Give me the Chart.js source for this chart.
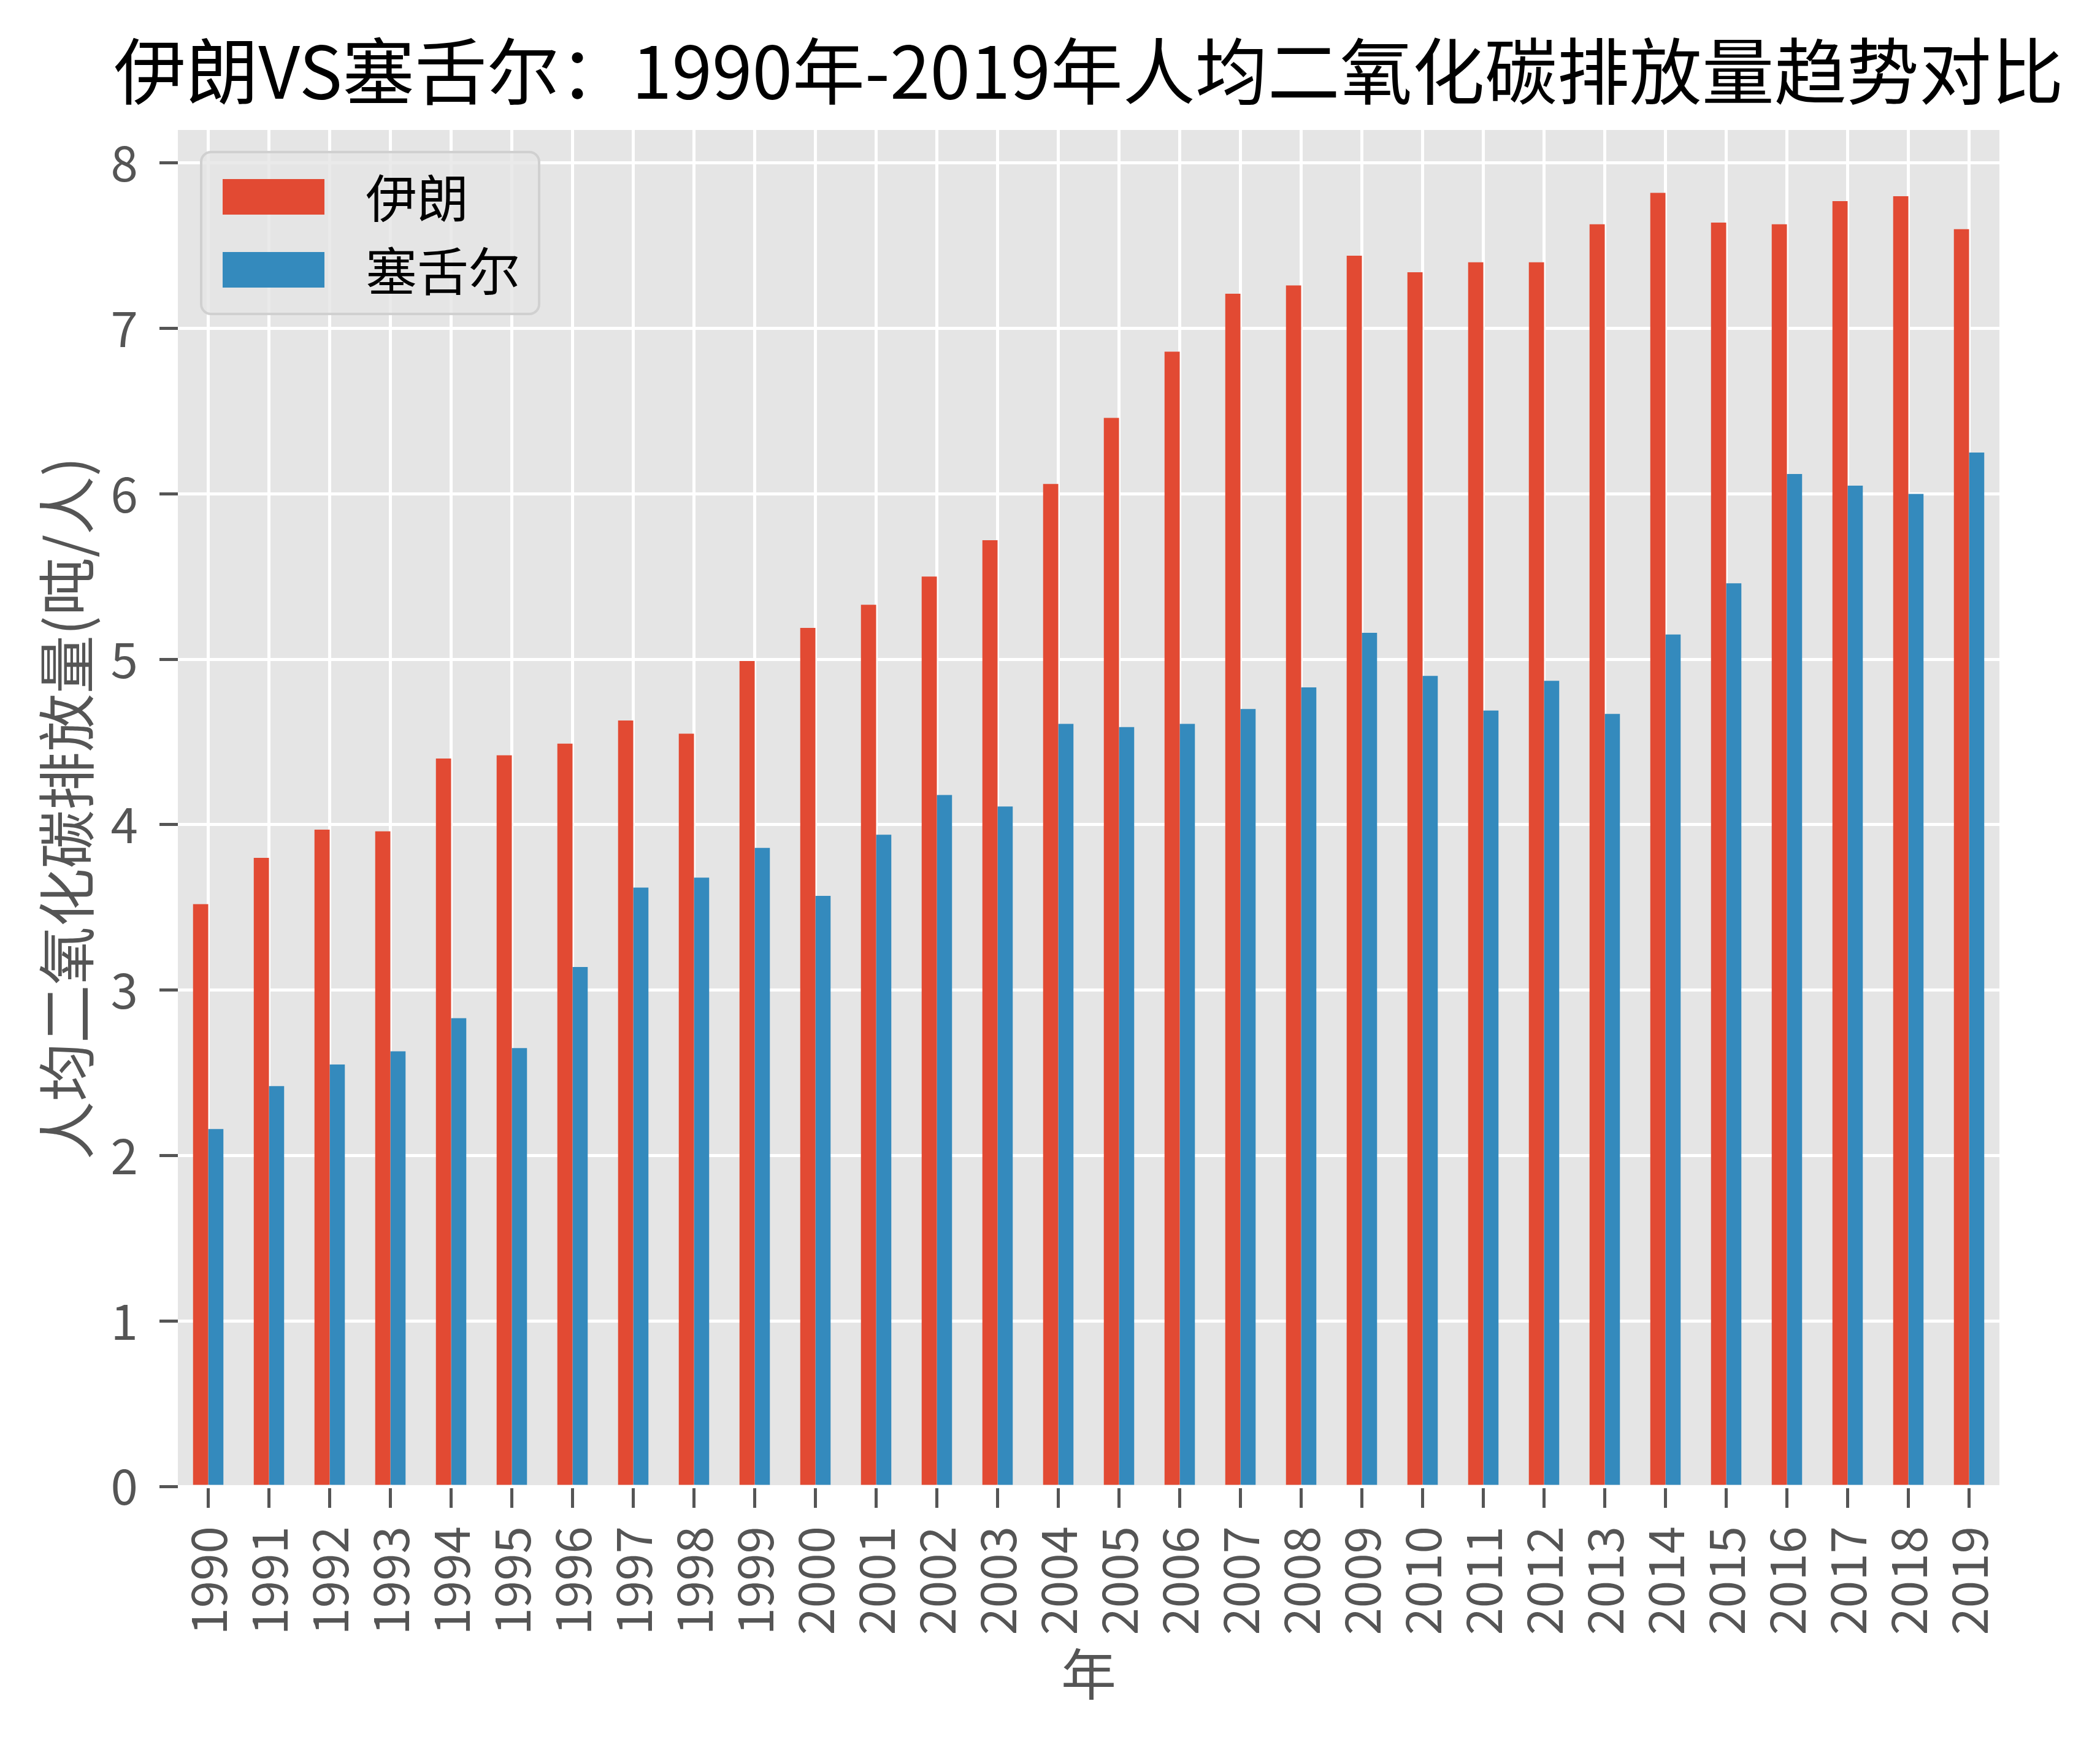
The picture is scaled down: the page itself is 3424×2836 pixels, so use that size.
<!DOCTYPE html>
<html>
<head>
<meta charset="utf-8">
<script src="https://cdn.jsdelivr.net/npm/chart.js@4.4.1/dist/chart.umd.min.js"></script>
<style>
  html, body { margin: 0; padding: 0; background: #fff; }
  canvas { display: block; }
</style>
</head>
<body>
<canvas id="chart" width="3424" height="2836"></canvas>
<script>
const years = ['1990', '1991', '1992', '1993', '1994', '1995', '1996', '1997', '1998', '1999',
  '2000', '2001', '2002', '2003', '2004', '2005', '2006', '2007', '2008', '2009',
  '2010', '2011', '2012', '2013', '2014', '2015', '2016', '2017', '2018', '2019'];
const iran = [3.52, 3.80, 3.97, 3.96, 4.40, 4.42, 4.49, 4.63, 4.55, 4.99,
  5.19, 5.33, 5.50, 5.72, 6.06, 6.46, 6.86, 7.21, 7.26, 7.44,
  7.34, 7.40, 7.40, 7.63, 7.82, 7.64, 7.63, 7.77, 7.80, 7.60];
const qatar = [2.16, 2.42, 2.55, 2.63, 2.83, 2.65, 3.14, 3.62, 3.68, 3.86,
  3.57, 3.94, 4.18, 4.11, 4.61, 4.59, 4.61, 4.70, 4.83, 5.16,
  4.90, 4.69, 4.87, 4.67, 5.15, 5.46, 6.12, 6.05, 6.00, 6.25];
const seriesNames = ['伊朗', '塞舌尔'];
const seriesColors = ['#E24A33', '#348ABD'];
const chartTitle = '伊朗VS塞舌尔：1990年-2019年人均二氧化碳排放量趋势对比';

const FONT = '"Noto Sans CJK SC", "Noto Sans", sans-serif';

// grey plot background like the ggplot style
const plotBackground = {
  id: 'plotBackground',
  beforeDraw(chart) {
    const { ctx, chartArea: a } = chart;
    ctx.save();
    ctx.fillStyle = '#E5E5E5';
    ctx.fillRect(a.left, a.top, a.right - a.left, a.bottom - a.top);
    ctx.restore();
  }
};

// title centred over the plot area (matplotlib style), not the canvas
const plotTitle = {
  id: 'plotTitle',
  afterDraw(chart) {
    const { ctx, chartArea: a } = chart;
    ctx.save();
    ctx.fillStyle = '#000';
    ctx.font = '118px ' + FONT;
    ctx.textAlign = 'center';
    ctx.textBaseline = 'middle';
    ctx.fillText(chartTitle, (a.left + a.right) / 2, a.top - 96);
    ctx.restore();
  }
};

// legend drawn inside the plot, upper left
const innerLegend = {
  id: 'innerLegend',
  afterDraw(chart) {
    const { ctx, chartArea: a } = chart;
    const x = a.left + 38, y = a.top + 36, w = 551, h = 264;
    ctx.save();
    ctx.beginPath();
    ctx.roundRect(x, y, w, h, 16);
    ctx.fillStyle = 'rgba(229,229,229,0.8)';
    ctx.fill();
    ctx.lineWidth = 4;
    ctx.strokeStyle = '#d0d0d0';
    ctx.stroke();
    chart.data.datasets.forEach((ds, i) => {
      const cy = y + 73 + i * 119;
      ctx.fillStyle = ds.backgroundColor;
      ctx.fillRect(x + 35, cy - 29, 166, 58);
      ctx.fillStyle = '#000';
      ctx.font = '84px ' + FONT;
      ctx.textBaseline = 'middle';
      ctx.textAlign = 'left';
      ctx.fillText(ds.label, x + 268, cy + 2);
    });
    ctx.restore();
  }
};

new Chart(document.getElementById('chart'), {
  type: 'bar',
  data: {
    labels: years,
    datasets: [
      { label: seriesNames[0], data: iran, backgroundColor: seriesColors[0] },
      { label: seriesNames[1], data: qatar, backgroundColor: seriesColors[1] }
    ]
  },
  options: {
    responsive: false,
    animation: false,
    devicePixelRatio: 1,
    layout: { padding: { left: 0, right: 164, top: 212, bottom: 0 } },
    datasets: { bar: { categoryPercentage: 0.5, barPercentage: 1.0 } },
    plugins: {
      legend: { display: false },
      tooltip: { enabled: false },
      title: { display: false }
    },
    scales: {
      x: {
        offset: true,
        grid: { offset: false, color: '#ffffff', lineWidth: 5, tickColor: '#555555', tickLength: 35, tickWidth: 5 },
        border: { display: false },
        ticks: {
          color: '#555555', font: { family: FONT, size: 80 },
          minRotation: 90, maxRotation: 90, padding: 30, autoSkip: false
        },
        title: {
          display: true, text: '年', color: '#555555',
          font: { family: FONT, size: 90, lineHeight: 1.2 },
          padding: { top: 0, bottom: 52 }
        },
        afterFit(scale) { scale.height = 2836 - 2424; }
      },
      y: {
        min: 0,
        max: 8.2,
        grid: { color: '#ffffff', lineWidth: 5, tickColor: '#555555', tickLength: 30, tickWidth: 5 },
        border: { display: false },
        ticks: {
          stepSize: 1, includeBounds: false, color: '#555555',
          font: { family: FONT, size: 80 }, padding: 35
        },
        title: {
          display: true, text: '人均二氧化碳排放量(吨/人)', color: '#555555',
          font: { family: FONT, size: 95, lineHeight: 1.2 },
          padding: { top: 52, bottom: 0 }
        },
        afterFit(scale) { scale.width = 290; }
      }
    }
  },
  plugins: [plotBackground, plotTitle, innerLegend]
});
</script>
</body>
</html>
